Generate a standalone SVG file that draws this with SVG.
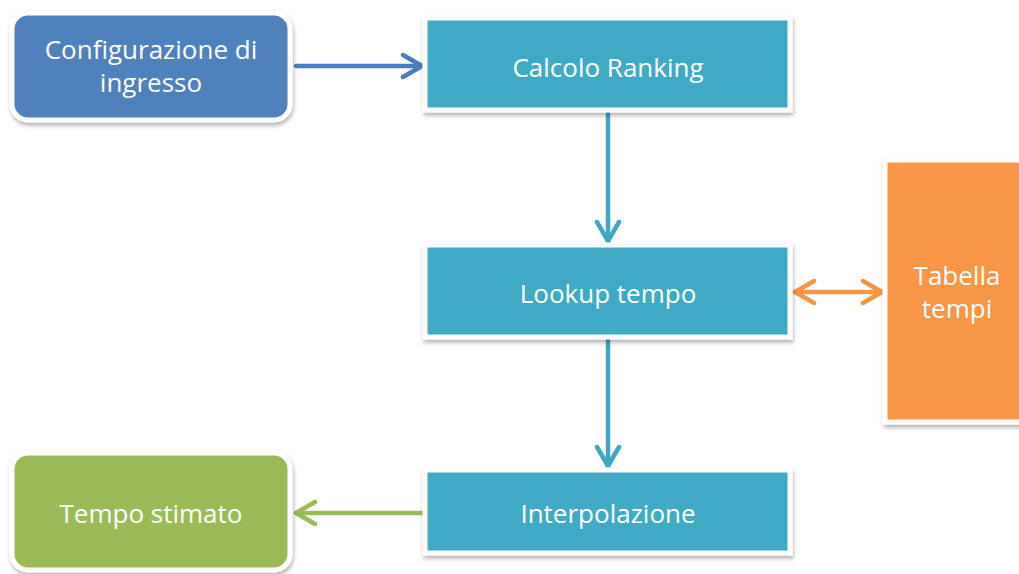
<svg xmlns="http://www.w3.org/2000/svg" width="1019" height="574" viewBox="0 0 1019 574">
<style>
.lbl{font-family:"Open Sans","Liberation Sans",sans-serif;font-size:26px;fill:#ffffff;text-anchor:middle}
.box{stroke:#ffffff;stroke-width:5;filter:url(#sh)}
.conn{fill:none;stroke-width:4.5;stroke-linecap:round}
</style>
<defs>
<filter id="sh" x="-10%" y="-10%" width="125%" height="130%">
<feDropShadow dx="1" dy="3" stdDeviation="2" flood-color="#000000" flood-opacity="0.3"/>
</filter>
<marker id="mBlue" markerUnits="userSpaceOnUse" markerWidth="30" markerHeight="30" viewBox="-24 -15 30 30" refX="0" refY="0" orient="auto-start-reverse">
<path d="M-19,-11 L0,0 L-19,11" fill="none" stroke="#4a7ebb" stroke-width="4.5" stroke-linecap="round" stroke-linejoin="round"/>
</marker>
<marker id="mTeal" markerUnits="userSpaceOnUse" markerWidth="30" markerHeight="30" viewBox="-24 -15 30 30" refX="0" refY="0" orient="auto-start-reverse">
<path d="M-19,-11 L0,0 L-19,11" fill="none" stroke="#3ea8c3" stroke-width="4.5" stroke-linecap="round" stroke-linejoin="round"/>
</marker>
<marker id="mOrange" markerUnits="userSpaceOnUse" markerWidth="30" markerHeight="30" viewBox="-24 -15 30 30" refX="0" refY="0" orient="auto-start-reverse">
<path d="M-19,-11 L0,0 L-19,11" fill="none" stroke="#f39645" stroke-width="4.5" stroke-linecap="round" stroke-linejoin="round"/>
</marker>
<marker id="mGreen" markerUnits="userSpaceOnUse" markerWidth="30" markerHeight="30" viewBox="-24 -15 30 30" refX="0" refY="0" orient="auto-start-reverse">
<path d="M-19,-11 L0,0 L-19,11" fill="none" stroke="#9bbb59" stroke-width="4.5" stroke-linecap="round" stroke-linejoin="round"/>
</marker>
</defs>
<rect width="1019" height="574" fill="#ffffff"/>
<g id="connectors">
<line class="conn" x1="296" y1="66" x2="422" y2="66" stroke="#4a7ebb" marker-end="url(#mBlue)"/>
<line class="conn" x1="608" y1="114" x2="608" y2="241" stroke="#3ea8c3" marker-end="url(#mTeal)" stroke-linecap="butt"/>
<line class="conn" x1="608" y1="340" x2="608" y2="466" stroke="#3ea8c3" marker-end="url(#mTeal)" stroke-linecap="butt"/>
<line class="conn" x1="795" y1="292" x2="882" y2="292" stroke="#f39645" marker-start="url(#mOrange)" marker-end="url(#mOrange)"/>
<line class="conn" x1="424" y1="513" x2="296" y2="513" stroke="#9bbb59" marker-end="url(#mGreen)" stroke-linecap="butt"/>
</g>
<g id="config">
<rect class="box" x="12" y="13" width="278" height="107" rx="16" fill="#4f81bd"/>
<text class="lbl" x="151" y="59">Configurazione di</text>
<text class="lbl" x="151" y="92">ingresso</text>
</g>
<g id="calcolo">
<rect class="box" x="425" y="18" width="365" height="92" fill="#40aac5"/>
<text class="lbl" x="608" y="77">Calcolo Ranking</text>
</g>
<g id="lookup">
<rect class="box" x="425" y="245" width="365" height="92" fill="#40aac5"/>
<text class="lbl" x="608" y="303">Lookup tempo</text>
</g>
<g id="interpolazione">
<rect class="box" x="425" y="470" width="365" height="83" fill="#40aac5"/>
<text class="lbl" x="608" y="523">Interpolazione</text>
</g>
<g id="tempostimato">
<rect class="box" x="12" y="453" width="278" height="117" rx="16" fill="#9bbb59"/>
<text class="lbl" x="151" y="523">Tempo stimato</text>
</g>
<g id="tabella">
<rect class="box" x="885" y="160" width="140" height="262" fill="#f79646"/>
<text class="lbl" x="957" y="285">Tabella</text>
<text class="lbl" x="957" y="318">tempi</text>
</g>
</svg>
